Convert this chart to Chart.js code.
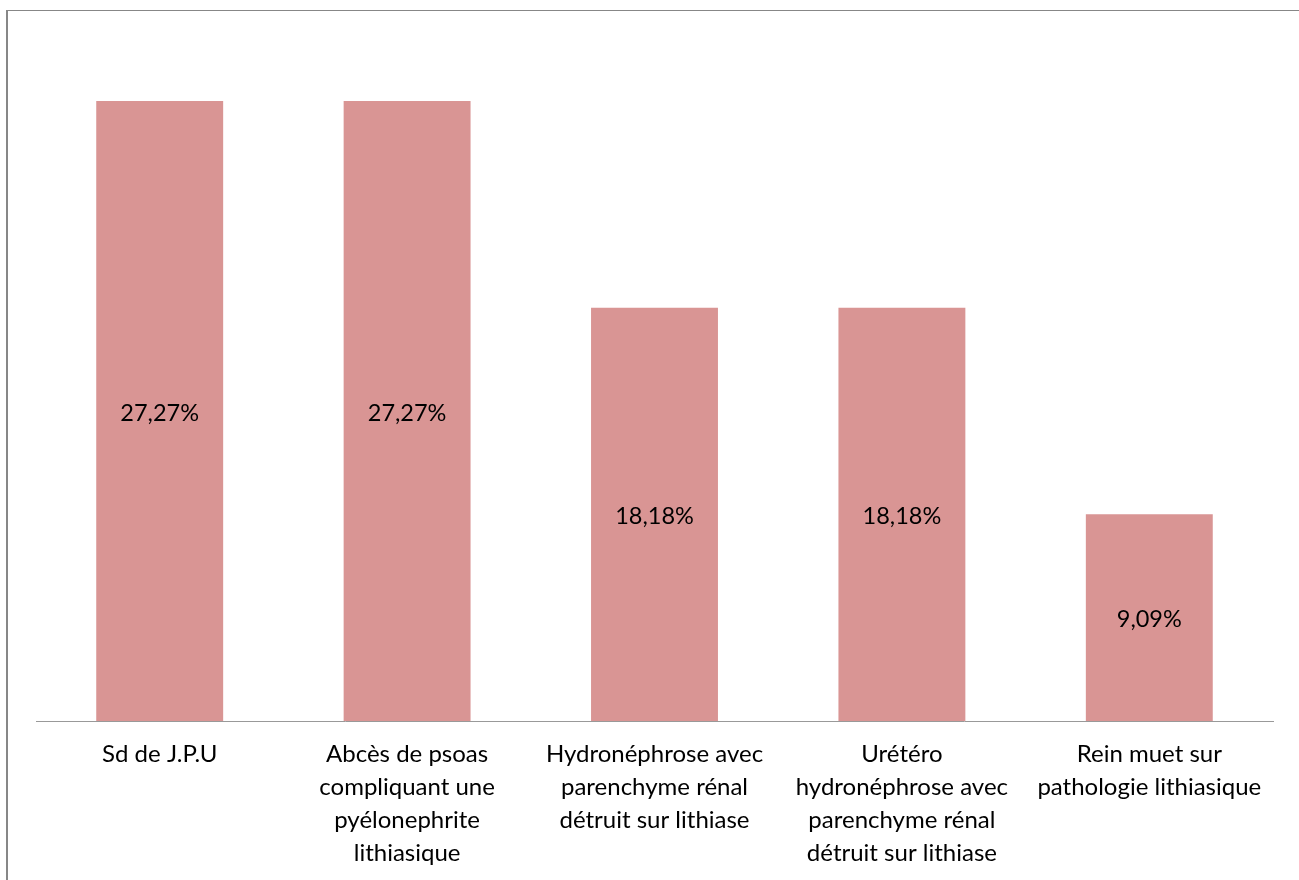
<!DOCTYPE html>
<html>
<head>
<meta charset="utf-8">
<script src="https://cdn.jsdelivr.net/npm/chart.js@4.4.1/dist/chart.umd.min.js"></script>
<style>
  html, body { margin: 0; padding: 0; background: #fff; overflow: hidden; }
  #frame { position: absolute; left: 6px; top: 10px; width: 1400px; height: 1000px; border: 1px solid #878787; border-left-width: 2px; }
  #wrap { position: absolute; left: 0; top: 0; width: 1299px; height: 880px; }
</style>
</head>
<body>
<div id="frame"></div>
<div id="wrap"><canvas id="barChart"></canvas></div>
<script>
const categories = [
    'Sd de J.P.U',
    ['Abcès de psoas', 'compliquant une', 'pyélonephrite', 'lithiasique'],
    ['Hydronéphrose avec', 'parenchyme rénal', 'détruit sur lithiase'],
    ['Urétéro', 'hydronéphrose avec', 'parenchyme rénal', 'détruit sur lithiase'],
    ['Rein muet sur', 'pathologie lithiasique']
];
const percentages = [27.27, 27.27, 18.18, 18.18, 9.09];
const barColor = '#D99594';
const fontFamily = 'Lato, "Open Sans", sans-serif';

// writes the value in the middle of each bar, French decimal comma
const midLabels = {
    id: 'midLabels',
    afterDatasetsDraw(chart) {
        const ctx = chart.ctx;
        const meta = chart.getDatasetMeta(0);
        ctx.save();
        ctx.font = '23.5px ' + fontFamily;
        ctx.fillStyle = '#000';
        ctx.textAlign = 'center';
        ctx.textBaseline = 'middle';
        meta.data.forEach((bar, i) => {
            const y = (bar.y + bar.base) / 2 + 2;
            ctx.fillText(percentages[i].toFixed(2).replace('.', ',') + '%', bar.x, y);
        });
        ctx.restore();
    }
};

const barChart = new Chart(document.getElementById('barChart'), {
    type: 'bar',
    data: {
        labels: categories,
        datasets: [{
            data: percentages,
            backgroundColor: barColor,
            borderWidth: 0,
            categoryPercentage: 1,
            barPercentage: 0.513
        }]
    },
    options: {
        responsive: false,
        maintainAspectRatio: false,
        animation: false,
        layout: { padding: { left: 36, right: 26, top: 39, bottom: 0 } },
        plugins: {
            legend: { display: false },
            tooltip: { enabled: false }
        },
        scales: {
            x: {
                grid: { display: false },
                border: { display: true, color: '#999', width: 1 },
                afterFit: s => { s.height = 159; },
                ticks: {
                    color: '#000',
                    padding: 9,
                    maxRotation: 0,
                    autoSkip: false,
                    font: { family: fontFamily, size: 24, lineHeight: '33px' }
                }
            },
            y: {
                display: false,
                min: 0,
                max: 30
            }
        }
    },
    plugins: [midLabels]
});
barChart.resize(1299, 880);
</script>
</body>
</html>
